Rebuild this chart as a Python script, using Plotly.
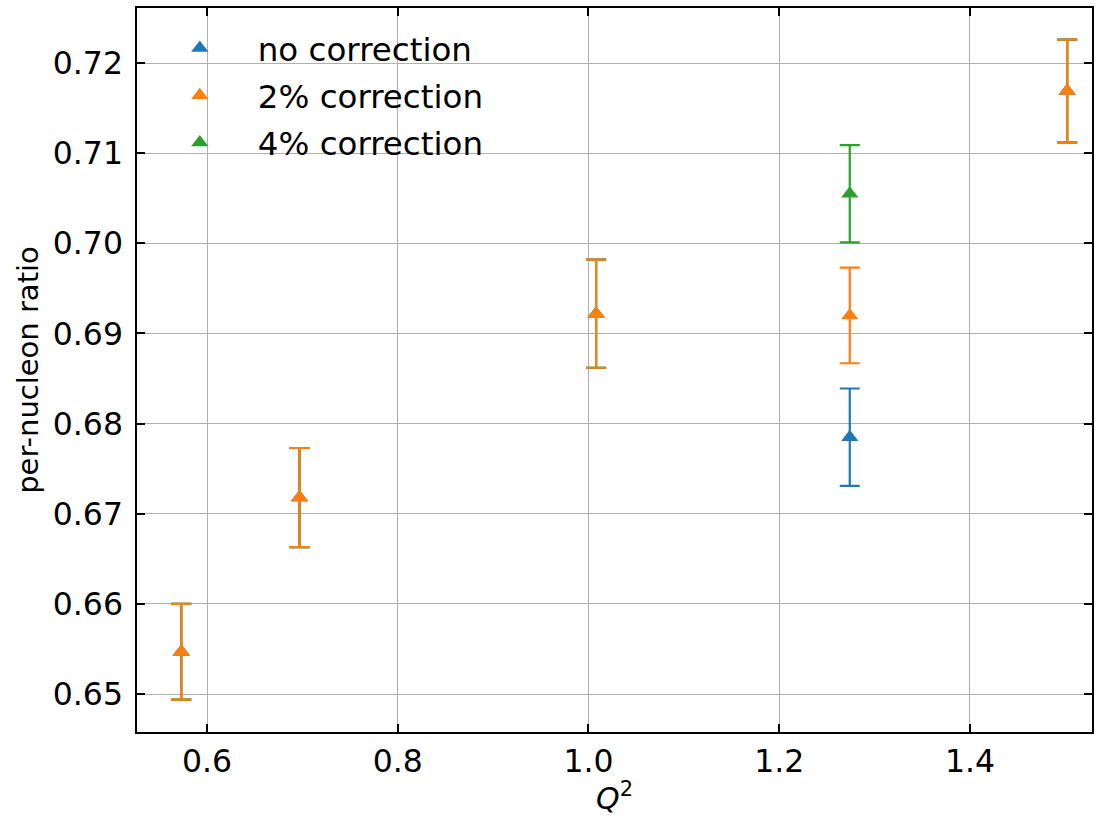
import plotly.graph_objects as go

q2 = [0.573, 0.697, 1.008, 1.274, 1.502]
no_corr = [0.6547, 0.6718, 0.6922, 0.6785, 0.7169]
no_corr_err = [0.0053, 0.0055, 0.0060, 0.0054, 0.0057]
corr2 = [0.6547, 0.6718, 0.6922, 0.6920, 0.7169]
corr2_err = [0.0053, 0.0055, 0.0060, 0.0053, 0.0057]
corr4 = [0.6547, 0.6718, 0.6922, 0.7055, 0.7169]
corr4_err = [0.0053, 0.0055, 0.0060, 0.0054, 0.0057]

series = [
    ("no correction", no_corr, no_corr_err, "#1f77b4", 1),
    ("4% correction", corr4, corr4_err, "#2ca02c", 3),
    ("2% correction", corr2, corr2_err, "#ff7f0e", 2),
]

FONT = "DejaVu Sans"
fig = go.Figure()
for name, y, e, c, rank in series:
    fig.add_trace(go.Scatter(
        x=q2, y=y, mode="markers", name=name, legendrank=rank,
        legendgroup=name,
        marker=dict(symbol="triangle-up", size=15, color=c),
        error_y=dict(type="data", array=e, visible=True, color=c,
                     thickness=2.2, width=10),
    ))

axis_common = dict(
    showline=True, linecolor="black", linewidth=1.5, mirror="allticks",
    ticks="inside", ticklen=8, tickwidth=1.5, tickcolor="black",
    showgrid=True, gridcolor="#b0b0b0", gridwidth=1, zeroline=False,
    tickfont=dict(family=FONT, size=31.5, color="black"),
    automargin=False,
)

fig.update_xaxes(range=[0.5266, 1.528], dtick=0.2, tick0=0.6, tickformat=".1f",
                 title=dict(text="<i>Q</i><sup>2</sup>", font=dict(family=FONT, size=30, color="black"), standoff=18),
                 **axis_common)
fig.update_yaxes(range=[0.6458, 0.7261], dtick=0.01, tick0=0.65, tickformat=".2f",
                 ticklabelstandoff=6,
                 title=dict(text="per-nucleon ratio", font=dict(family=FONT, size=29, color="black"), standoff=6),
                 **axis_common)

fig.update_layout(
    width=1104, height=816,
    margin=dict(l=137, r=12, t=8, b=84),
    plot_bgcolor="white", paper_bgcolor="white",
    font=dict(family=FONT, size=30, color="black"),
    legend=dict(x=0.005, y=0.983, xanchor="left", yanchor="top",
                bgcolor="rgba(0,0,0,0)", font=dict(family=FONT, size=32.5, color="black"),
                tracegroupgap=2, itemwidth=106),
    showlegend=True,
)

fig.write_html("out.html")
